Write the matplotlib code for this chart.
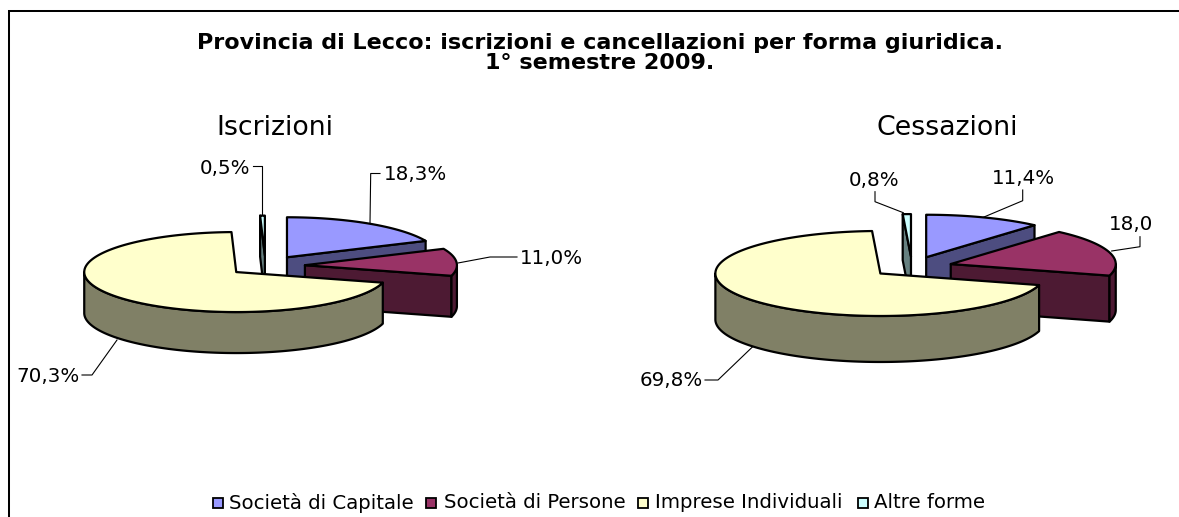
import numpy as np
import matplotlib
matplotlib.use("Agg")
import matplotlib.pyplot as plt
from matplotlib.patches import Polygon, Rectangle

plt.rcParams['font.family'] = ['DejaVu Sans']

categories = ["Società di Capitale", "Società di Persone", "Imprese Individuali", "Altre forme"]
iscrizioni = [18.3, 11.0, 70.3, 0.5]
cessazioni = [11.4, 18.0, 69.8, 0.8]
labels_isc = ["18,3%", "11,0%", "70,3%", "0,5%"]
labels_ces = ["11,4%", "18,0", "69,8%", "0,8%"]
title = "Provincia di Lecco: iscrizioni e cancellazioni per forma giuridica.\n1° semestre 2009."

colors = ["#9999FF", "#993366", "#FFFFCC", "#CCFFFF"]
walls = ["#4D4D80", "#4D1A33", "#808066", "#668080"]

W, H = 1179, 517
fig = plt.figure(figsize=(W / 100, H / 100), dpi=100)
ax = fig.add_axes([0, 0, 1, 1])
ax.set_xlim(0, W)
ax.set_ylim(H, 0)
ax.axis("off")

# frame (clipped by the image on the right and at the bottom)
ax.plot([9, 9, W + 5], [H + 5, 10.5, 10.5], color="black", lw=1.45, solid_joinstyle="miter")


def pt(cx, cy, rx, ry, th):
    return cx + rx * np.sin(th), cy - ry * np.cos(th)


def pie3d(values, cx, cy, rx, ry, depth, explode):
    total = sum(values)
    edges = np.deg2rad(np.concatenate([[0], np.cumsum(values) / total * 360]))
    faces = []
    for i, v in enumerate(values):
        t0, t1 = edges[i], min(edges[i + 1], 2 * np.pi)
        m = (t0 + t1) / 2
        ox = cx + explode[i] * rx * np.sin(m)
        oy = cy - explode[i] * ry * np.cos(m)
        arc = np.linspace(t0, t1, 200)
        ax_, ay_ = pt(ox, oy, rx, ry, arc)
        faces.append((i, t0, t1, ox, oy, ax_, ay_))
    order = [3, 0, 1, 2]
    for i in order:
        _, t0, t1, ox, oy, ax_, ay_ = faces[i]
        z = 10 + order.index(i) * 5
        style = dict(ec="black", lw=1.6, joinstyle="round")
        # radial side faces turned to the viewer
        if np.sin(t0) < 0:
            x, y = pt(ox, oy, rx, ry, t0)
            ax.add_patch(Polygon([(ox, oy), (x, y), (x, y + depth), (ox, oy + depth)],
                                 fc=walls[i], zorder=z, **style))
        if np.sin(t1) > 1e-6:
            x, y = pt(ox, oy, rx, ry, t1)
            ax.add_patch(Polygon([(ox, oy), (x, y), (x, y + depth), (ox, oy + depth)],
                                 fc=walls[i], zorder=z, **style))
        # outer rim facing the viewer
        a = max(t0, np.pi / 2)
        b = min(t1, 3 * np.pi / 2)
        if b > a:
            th = np.linspace(a, b, 200)
            x, y = pt(ox, oy, rx, ry, th)
            ax.add_patch(Polygon(np.r_[np.c_[x, y], np.c_[x[::-1], y[::-1] + depth]],
                                 fc=walls[i], zorder=z + 1, **style))
        # top
        ax.add_patch(Polygon(np.r_[[(ox, oy)], np.c_[ax_, ay_]], fc=colors[i], zorder=z + 2, **style))


pie3d(iscrizioni, 265.5, 266, 152, 40, 41, [0.26, 0.26, 0.245, 0.26])
pie3d(cessazioni, 912, 267, 165, 42.5, 46, [0.245, 0.245, 0.245, 0.245])

# leader lines
leaders = [
    [(370, 223), (370.7, 173.5), (380, 173.5)],
    [(458, 263), (490, 257), (517, 257)],
    [(117, 340), (92, 375), (82, 375)],
    [(253.3, 166), (262.3, 166), (262.3, 215)],
    [(983.3, 217.3), (1022.7, 200.7), (1022.7, 190)],
    [(1111.7, 251), (1140, 246.7), (1140, 236.7)],
    [(752.7, 346.7), (718, 380), (705, 380)],
    [(875, 191.7), (875, 201.7), (903.3, 212.7)],
]
for pts in leaders:
    xs, ys = zip(*pts)
    ax.plot(xs, ys, color="black", lw=0.8, zorder=30)

# data labels
fs = 14.3
lab = dict(fontsize=fs, color="black", va="center", ha="center", zorder=31)
for (x, y), s in zip([(415.5, 175), (551.5, 258), (47.5, 376), (225, 168)], labels_isc):
    ax.text(x, y, s, **lab)
for (x, y), s in zip([(1023, 178), (1131, 224), (671, 381), (874.5, 180)], labels_ces):
    ax.text(x, y, s, **lab)

# titles
ax.text(600, 53, title, fontsize=16, fontweight="bold", ha="center", va="center", linespacing=1.06)
ax.text(275, 128, "Iscrizioni", fontsize=19.3, ha="center", va="center")
ax.text(947, 128, "Cessazioni", fontsize=19.3, ha="center", va="center")

# legend
leg_text_x = [229, 443.5, 655, 874.5]
leg_box_x = [212.5, 426, 638, 857.5]
for bx, tx, c, s in zip(leg_box_x, leg_text_x, colors, categories):
    ax.add_patch(Rectangle((bx, 498), 10, 10, fc=c, ec="black", lw=1.3))
    ax.text(tx, 503, s, fontsize=14.2, ha="left", va="center")

fig.savefig("out.png", dpi=100)
